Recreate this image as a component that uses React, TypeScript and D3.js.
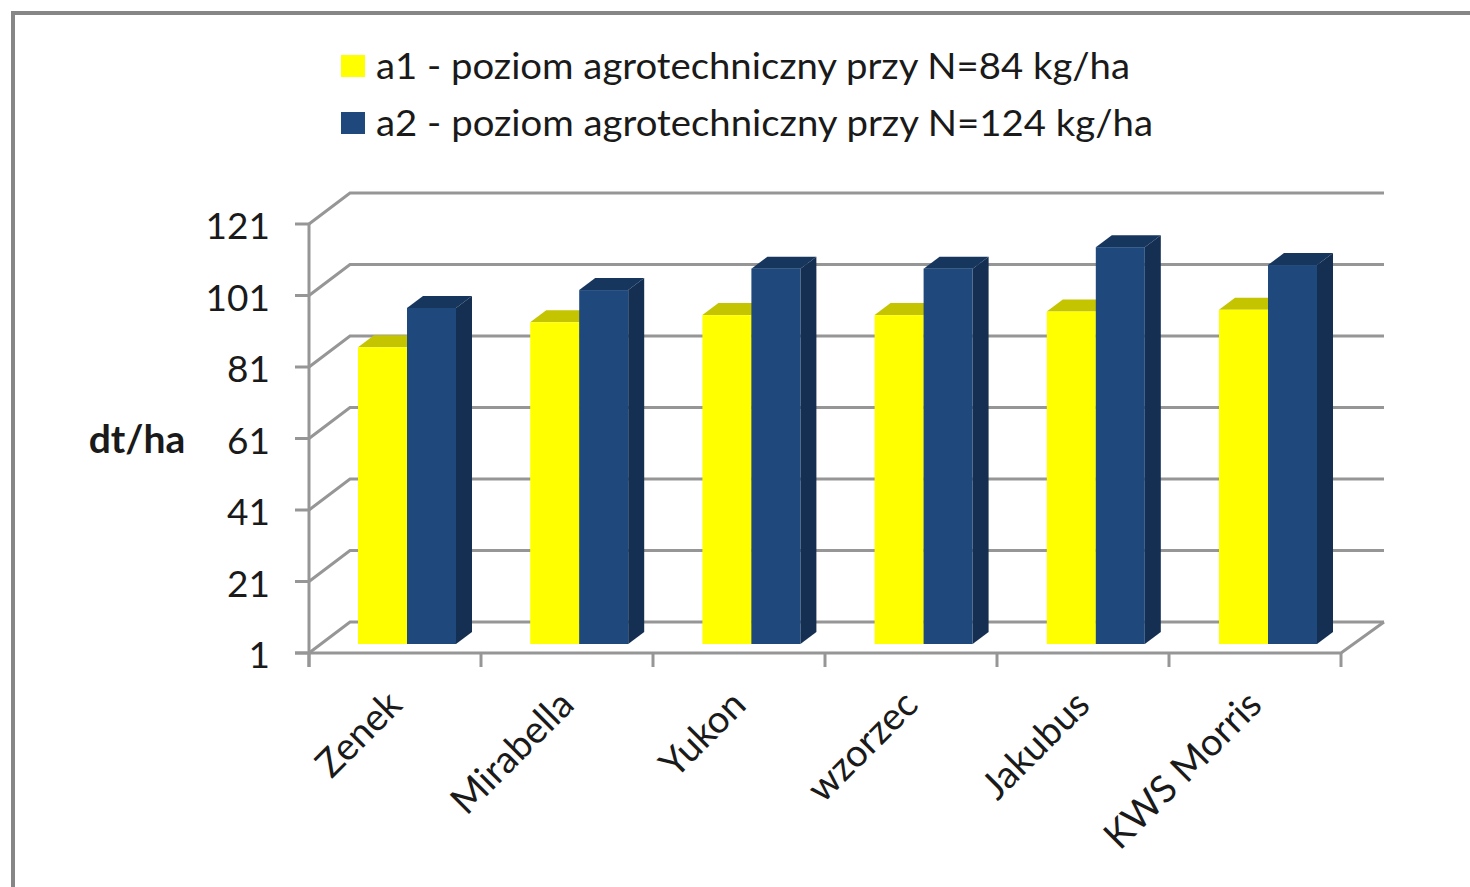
import React from 'react';
import * as d3 from 'd3';

const categories = ['Zenek', 'Mirabella', 'Yukon', 'wzorzec', 'Jakubus', 'KWS Morris'];
const seriesNames = ['a1 - poziom agrotechniczny przy N=84 kg/ha', 'a2 - poziom agrotechniczny przy N=124 kg/ha'];
const a1Values = [84, 91, 93, 93, 94, 94.5];
const a2Values = [95, 100, 106, 106, 112, 107];
const yTicks = [1, 21, 41, 61, 81, 101, 121];

const FONT = 'Lato, Carlito, sans-serif';
const GREY = '#969696';
const TEXT = '#1a1a1a';

// colours per series: front, top, side
const a1Colors = { front: '#ffff00', top: '#c4c400', side: '#c4c400' };
const a2Colors = { front: '#1f497d', top: '#17365d', side: '#152f52' };

// pseudo 3D wall depth
const wallDx = 41;
const wallDy = -31;
// bar depth and how far the bars sit from the front of the floor
const barDx = 16;
const barDy = -12;
const barLift = -9;

export default function App() {
  const y = d3.scaleLinear().domain([1, 121]).range([653, 224]);
  const x = d3.scaleBand<string>().domain(categories).range([309, 1341]);
  // the bars drift a touch wider than the ticks in the original
  const xBars = d3.scaleBand<string>().domain(categories).range([309, 1342.2]);
  const inner = d3.scaleBand<string>().domain(['a1', 'a2']).range([49, 147]);

  const xEdges = [...categories.map(c => x(c) as number), 1341];
  const base = y(1);

  const drawBar = (cat: string, key: string, value: number, colors: typeof a1Colors) => {
    const x0 = (xBars(cat) as number) + (inner(key) as number);
    const w = inner.bandwidth();
    const x1 = x0 + w;
    const bottom = base + barLift;
    // bars start from the floor, shifted forward so the value reads against the back wall
    const top = bottom - (base - y(value));
    return (
      <g key={cat + key}>
        <path
          d={`M${x0},${top}L${x0 + barDx},${top + barDy}L${x1 + barDx},${top + barDy}L${x1},${top}Z`}
          fill={colors.top}
        />
        <path
          d={`M${x1},${top}L${x1 + barDx},${top + barDy}L${x1 + barDx},${bottom + barDy}L${x1},${bottom}Z`}
          fill={colors.side}
        />
        <rect x={x0} y={top} width={w} height={bottom - top} fill={colors.front} />
      </g>
    );
  };

  return (
    <svg
      width={1470}
      height={887}
      style={{ position: 'absolute', left: 0, top: 0, background: '#fff' }}
      fontFamily={FONT}
    >
      {/* chart frame, runs off the right and bottom */}
      <path d="M13,887V13H1470" fill="none" stroke="#868686" strokeWidth={4} />

      {/* legend */}
      <rect x={341} y={55} width={24} height={22} fill={a1Colors.front} />
      <rect x={341} y={112} width={24} height={22} fill={a2Colors.front} />
      <text x={376} y={79} fontSize={37} fill={TEXT} textLength={754} lengthAdjust="spacingAndGlyphs">
        {seriesNames[0]}
      </text>
      <text x={376} y={136} fontSize={37} fill={TEXT} textLength={777} lengthAdjust="spacingAndGlyphs">
        {seriesNames[1]}
      </text>

      {/* gridlines on side and back wall */}
      {yTicks.map(t => (
        <path
          key={t}
          d={`M309,${y(t)}L${309 + wallDx},${y(t) + wallDy}H${1341 + wallDx + 2}`}
          fill="none"
          stroke={GREY}
          strokeWidth={3}
        />
      ))}

      {/* floor and axes */}
      <path
        d={`M295,${base}H1341L${1341 + wallDx + 2},${base + wallDy}`}
        fill="none"
        stroke={GREY}
        strokeWidth={3}
      />
      <path d={`M309,${y(121)}V${base + 14}`} fill="none" stroke={GREY} strokeWidth={3} />
      {yTicks.map(t => (
        <line key={t} x1={295} x2={309} y1={y(t)} y2={y(t)} stroke={GREY} strokeWidth={3} />
      ))}
      {xEdges.map(e => (
        <line key={e} x1={e} x2={e} y1={base} y2={base + 14} stroke={GREY} strokeWidth={3} />
      ))}

      {/* bars */}
      {categories.map((c, i) => (
        <g key={c}>
          {drawBar(c, 'a1', a1Values[i], a1Colors)}
          {drawBar(c, 'a2', a2Values[i], a2Colors)}
        </g>
      ))}

      {/* y labels */}
      {yTicks.map(t => (
        <text key={t} x={270} y={y(t) + 15} fontSize={37} textAnchor="end" fill={TEXT}>
          {t}
        </text>
      ))}
      <text x={137} y={453} fontSize={39} fontWeight={700} textAnchor="middle" fill={TEXT}>
        dt/ha
      </text>

      {/* x labels */}
      {categories.map(c => {
        const cx = (x(c) as number) + x.bandwidth() / 2 + 9;
        return (
          <text
            key={c}
            transform={`translate(${cx},${707}) rotate(-45)`}
            fontSize={38}
            textAnchor="end"
            fill={TEXT}
          >
            {c}
          </text>
        );
      })}
    </svg>
  );
}
